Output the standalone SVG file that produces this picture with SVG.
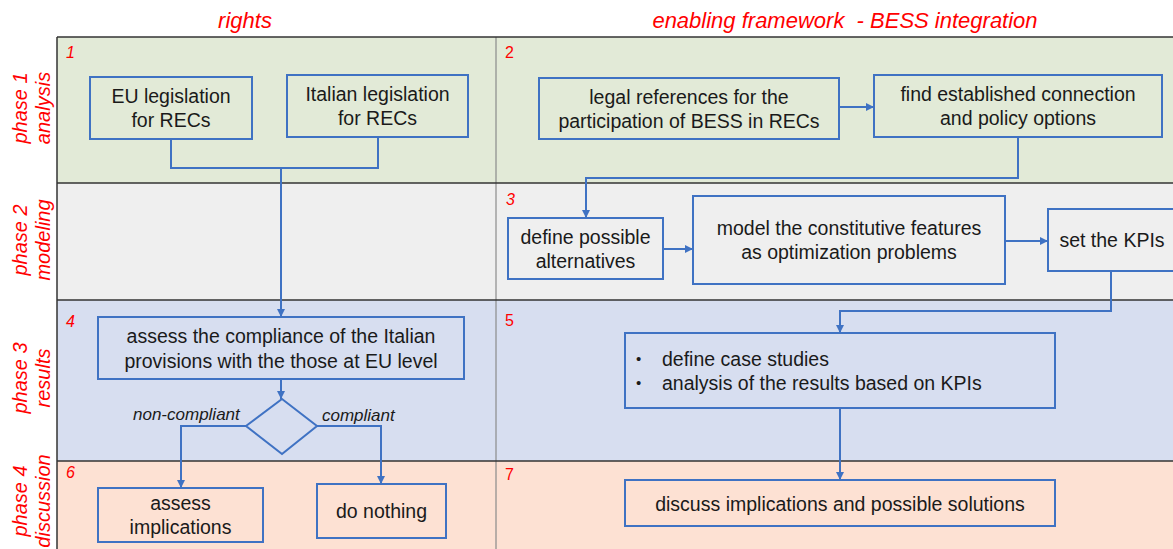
<svg xmlns="http://www.w3.org/2000/svg" width="1173" height="549" viewBox="0 0 1173 549">
<style>
.hdr{font-family:"Liberation Sans",Arial,sans-serif;font-size:22px;font-style:italic;fill:#FF0000}
.ph{font-family:"Liberation Sans",Arial,sans-serif;font-size:20px;font-style:italic;fill:#FF0000;text-anchor:middle}
.num{font-family:"Liberation Sans",Arial,sans-serif;font-size:16px;fill:#FF0000}
.it{font-style:italic}
.box{fill:none;stroke:#3F72C3;stroke-width:2}
.t{font-family:"Liberation Sans",Arial,sans-serif;font-size:19.5px;fill:#1a1a1a;text-anchor:middle}
.tl{font-family:"Liberation Sans",Arial,sans-serif;font-size:19.5px;fill:#1a1a1a}
.bul{font-family:"Liberation Sans",Arial,sans-serif;font-size:15px;fill:#1a1a1a}
.lbl{font-family:"Liberation Sans",Arial,sans-serif;font-size:17px;font-style:italic;fill:#1a1a1a}
.con{fill:none;stroke:#3F72C3;stroke-width:2}
.sep{stroke:#333;stroke-width:1.5}
</style>
<defs>
<marker id="arr" markerUnits="userSpaceOnUse" markerWidth="9" markerHeight="8" refX="8" refY="4" orient="auto">
<path d="M0,0 L8,4 L0,8 Z" fill="#3F72C3"/>
</marker>
</defs>
<rect width="1173" height="549" fill="#FFFFFF"/>
<g id="lanes">
<rect x="57" y="37" width="1130" height="146" fill="#E2EAD7"/>
<rect x="57" y="183" width="1130" height="117" fill="#EFEFEF"/>
<rect x="57" y="300" width="1130" height="161" fill="#D7DEF0"/>
<rect x="57" y="461" width="1130" height="100" fill="#FDE1D3"/>
<line x1="496" y1="37" x2="496" y2="549" stroke="#8a8a8a" stroke-width="1.2"/>
<line class="sep" x1="57" y1="37" x2="1180" y2="37"/>
<line class="sep" x1="57" y1="183" x2="1180" y2="183"/>
<line class="sep" x1="57" y1="300" x2="1180" y2="300"/>
<line class="sep" x1="57" y1="461" x2="1180" y2="461"/>
<line class="sep" x1="57" y1="37" x2="57" y2="549"/>
<text class="hdr" x="245" y="28" text-anchor="middle">rights</text>
<text class="hdr" x="845" y="28" text-anchor="middle" xml:space="preserve">enabling framework  - BESS integration</text>
<g transform="translate(27,108) rotate(-90)"><text class="ph" x="0" y="0">phase 1</text><text class="ph" x="0" y="23">analysis</text></g>
<g transform="translate(27,240) rotate(-90)"><text class="ph" x="0" y="0">phase 2</text><text class="ph" x="0" y="23">modeling</text></g>
<g transform="translate(27,378) rotate(-90)"><text class="ph" x="0" y="0">phase 3</text><text class="ph" x="0" y="23">results</text></g>
<g transform="translate(27,501) rotate(-90)"><text class="ph" x="0" y="0">phase 4</text><text class="ph" x="0" y="23">discussion</text></g>
<text class="num it" x="66" y="58">1</text>
<text class="num" x="505" y="58">2</text>
<text class="num it" x="506" y="205">3</text>
<text class="num it" x="66" y="327">4</text>
<text class="num" x="505" y="326">5</text>
<text class="num it" x="66" y="478">6</text>
<text class="num" x="505" y="480">7</text>
</g>
<g id="connectors">
<path class="con" d="M171,139 V168 H378 V137"/>
<path class="con" d="M281,168 V317" marker-end="url(#arr)"/>
<path class="con" d="M839,107 H874" marker-end="url(#arr)"/>
<path class="con" d="M1018,137 V178 H586 V218" marker-end="url(#arr)"/>
<path class="con" d="M663,249 H693" marker-end="url(#arr)"/>
<path class="con" d="M1005,241 H1048" marker-end="url(#arr)"/>
<path class="con" d="M1111,271 V311 H840 V333" marker-end="url(#arr)"/>
<path class="con" d="M281,379 V399" marker-end="url(#arr)"/>
<path class="con" d="M246,426 H181 V488" marker-end="url(#arr)"/>
<path class="con" d="M317,426 H381 V484" marker-end="url(#arr)"/>
<path class="con" d="M840,408 V480" marker-end="url(#arr)"/>
<text class="lbl" x="133" y="420">non-compliant</text>
<text class="lbl" x="322" y="421">compliant</text>
</g>
<g id="eu">
<rect class="box" x="90" y="77" width="162" height="62"/>
<text class="t" x="171" y="103">EU legislation</text>
<text class="t" x="171" y="127">for RECs</text>
</g>
<g id="italian">
<rect class="box" x="287" y="75" width="181" height="62"/>
<text class="t" x="377.5" y="101">Italian legislation</text>
<text class="t" x="377.5" y="125">for RECs</text>
</g>
<g id="legal">
<rect class="box" x="539" y="78" width="300" height="61"/>
<text class="t" x="689" y="104">legal references for the</text>
<text class="t" x="689" y="128">participation of BESS in RECs</text>
</g>
<g id="find">
<rect class="box" x="874" y="75" width="288" height="62"/>
<text class="t" x="1018" y="101">find established connection</text>
<text class="t" x="1018" y="125">and policy options</text>
</g>
<g id="define">
<rect class="box" x="508" y="218" width="155" height="61"/>
<text class="t" x="585.5" y="244">define possible</text>
<text class="t" x="585.5" y="268">alternatives</text>
</g>
<g id="model">
<rect class="box" x="693" y="196" width="312" height="88"/>
<text class="t" x="849" y="235">model the constitutive features</text>
<text class="t" x="849" y="259">as optimization problems</text>
</g>
<g id="kpis">
<rect class="box" x="1048" y="209" width="130" height="62"/>
<text class="t" x="1112" y="247">set the KPIs</text>
</g>
<g id="assess">
<rect class="box" x="98" y="317" width="366" height="62"/>
<text class="t" x="281" y="343">assess the compliance of the Italian</text>
<text class="t" x="281" y="368">provisions with the those at EU level</text>
</g>
<g id="decision">
<polygon class="box" points="282,399 317,426 282,454 246,426"/>
</g>
<g id="implications">
<rect class="box" x="98" y="488" width="165" height="54"/>
<text class="t" x="180.5" y="510">assess</text>
<text class="t" x="180.5" y="534">implications</text>
</g>
<g id="nothing">
<rect class="box" x="317" y="484" width="129" height="54"/>
<text class="t" x="381.5" y="518">do nothing</text>
</g>
<g id="cases">
<rect class="box" x="625" y="333" width="430" height="75"/>
<text class="bul" x="636" y="364">•</text>
<text class="tl" x="662" y="366">define case studies</text>
<text class="bul" x="636" y="388">•</text>
<text class="tl" x="662" y="390">analysis of the results based on KPIs</text>
</g>
<g id="discuss">
<rect class="box" x="625" y="480" width="430" height="46"/>
<text class="t" x="840" y="511">discuss implications and possible solutions</text>
</g>
</svg>
